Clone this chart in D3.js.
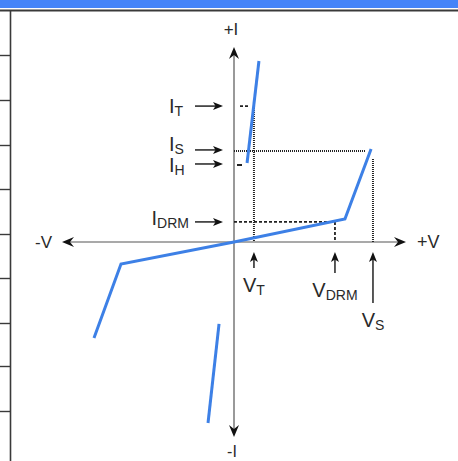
<!DOCTYPE html>
<html>
<head>
<meta charset="utf-8">
<script src="https://cdn.jsdelivr.net/npm/d3@7/dist/d3.min.js"></script>
<style>
html,body{margin:0;padding:0;background:#fff;}
svg{display:block;font-family:"Liberation Sans",Arial,Helvetica,sans-serif;}
</style>
</head>
<body>
<svg id="c" width="458" height="461"></svg>
<script>
// ---- data (schematic units) ----
const curveV = [-8.14, -6.57, 0, 6.45, 7.97];
const curveI = [-4.92, -1.13, 0, 1.18, 4.77];
const onStateV = [0.76, 1.45];
const onStateI = [4.05, 9.28];
const breakdownV = [-0.87, -1.51];
const breakdownI = [-4.2, -9.28];

const currentSubs = ["T", "S", "H", "DRM"];
const currentValues = [6.97, 4.67, 3.95, 1.03];
const voltageSubs = ["T", "DRM", "S"];
const voltageValues = [1.16, 5.87, 8.08];

const axisLabels = ["+I", "-I", "-V", "+V"];
const axisDomain = [-10, 10];

// ---- drawing ----
const svg = d3.select("#c");
const x = d3.scaleLinear().domain(axisDomain).range([62, 406]);
const y = d3.scaleLinear().domain(axisDomain).range([437, 47]);
const X0 = x(0), Y0 = y(0);
const blue = "#3d80e6";
const ink = "#222";
const textCol = "#2a2a2a";

// frame decoration
svg.append("rect").attr("x",0).attr("y",0).attr("width",458).attr("height",8).attr("fill","#4584f8");
svg.append("line").attr("x1",0).attr("x2",458).attr("y1",10.5).attr("y2",10.5).attr("stroke","#3a3a3a").attr("stroke-width",2);
svg.append("line").attr("x1",10.5).attr("x2",10.5).attr("y1",10).attr("y2",461).attr("stroke","#3a3a3a").attr("stroke-width",1.6);
[55,100,145,189,234,278,323,366,411].forEach(yy=>{
  svg.append("line").attr("x1",0).attr("x2",10).attr("y1",yy+0.5).attr("y2",yy+0.5).attr("stroke","#3a3a3a").attr("stroke-width",1.4);
});

// arrowhead helper: tip at (tx,ty), direction angle (rad) pointing toward tip
function arrowHead(tx, ty, ang, len, half, notch){
  const c = Math.cos(ang), s = Math.sin(ang);
  const bx = tx - c*len, by = ty - s*len;
  const nx = tx - c*(len-notch), ny = ty - s*(len-notch);
  const p1 = [bx - s*half, by + c*half];
  const p2 = [bx + s*half, by - c*half];
  svg.append("path")
    .attr("d", `M${tx},${ty}L${p1[0]},${p1[1]}L${nx},${ny}L${p2[0]},${p2[1]}Z`)
    .attr("fill", "#111");
}

// axes
svg.append("line").attr("x1",x(axisDomain[0])+4).attr("x2",x(axisDomain[1])-4).attr("y1",Y0).attr("y2",Y0).attr("stroke","#555").attr("stroke-width",1.2);
svg.append("line").attr("x1",X0).attr("x2",X0).attr("y1",y(axisDomain[1])+4).attr("y2",y(axisDomain[0])-4).attr("stroke","#555").attr("stroke-width",1.2);
arrowHead(x(axisDomain[1]), Y0, 0, 12, 5, 4);
arrowHead(x(axisDomain[0]), Y0, Math.PI, 12, 5, 4);
arrowHead(X0, y(axisDomain[1]), -Math.PI/2, 12, 5, 4);
arrowHead(X0, y(axisDomain[0]), Math.PI/2, 12, 5, 4);

const axFont = 17;
svg.append("text").attr("x",X0-3).attr("y",y(axisDomain[1])-12).attr("text-anchor","middle").attr("font-size",axFont).attr("fill",textCol).text(axisLabels[0]);
svg.append("text").attr("x",X0-2).attr("y",y(axisDomain[0])+20).attr("text-anchor","middle").attr("font-size",16).attr("fill",textCol).text(axisLabels[1]);
svg.append("text").attr("x",x(axisDomain[0])-10).attr("y",Y0+6).attr("text-anchor","end").attr("font-size",axFont).attr("fill",textCol).text(axisLabels[2]);
svg.append("text").attr("x",x(axisDomain[1])+11).attr("y",Y0+6).attr("text-anchor","start").attr("font-size",axFont+1).attr("fill",textCol).text(axisLabels[3]);

// reference lines
const iT = currentValues[0], iS = currentValues[1], iH = currentValues[2], iDRM = currentValues[3];
const vT = voltageValues[0], vDRM = voltageValues[1], vS = voltageValues[2];
const dotted = "1,1", dashed = "3,2";
function ref(x1,y1,x2,y2,dash,w){
  svg.append("line").attr("x1",x1).attr("y1",y1).attr("x2",x2).attr("y2",y2)
    .attr("stroke",ink).attr("stroke-width",w||2).attr("stroke-dasharray",dash||null);
}
ref(X0+6, y(iT), x(vT)-4, y(iT), dashed, 1.8);
ref(x(vT), y(iT)+2, x(vT), Y0, dotted, 2);
ref(X0, y(iS), x(vS)-7, y(iS), dotted, 2);
ref(x(vS), y(iS)+8, x(vS), Y0, dotted, 2);
ref(X0+3, y(iH), X0+8, y(iH), null, 2);
ref(X0, y(iDRM), x(vDRM), y(iDRM), dashed, 1.8);
ref(x(vDRM), y(iDRM), x(vDRM), Y0, dashed, 1.8);

// curves
const line = d3.line().x(d=>x(d[0])).y(d=>y(d[1]));
function curve(vs, is){
  svg.append("path").datum(vs.map((v,i)=>[v,is[i]])).attr("d",line)
    .attr("fill","none").attr("stroke",blue).attr("stroke-width",3).attr("stroke-linejoin","miter");
}
curve(curveV, curveI);
curve(onStateV, onStateI);
curve(breakdownV, breakdownI);

// labels with subscripts
const mainFont = 20, subFont = 14;
function subLabel(px, py, main, sub, anchor){
  const t = svg.append("text").attr("y",py).attr("font-size",mainFont).attr("fill",textCol);
  t.append("tspan").text(main);
  t.append("tspan").attr("font-size",subFont).attr("dy",3).text(sub);
  const w = t.node().getComputedTextLength();
  let sx = px;
  if(anchor === "middle") sx = px - w/2;
  if(anchor === "endmin") sx = Math.min(px - w, 169);
  t.attr("x", sx);
  return t;
}
function thinArrow(x1,y1,x2,y2){
  const ang = Math.atan2(y2-y1, x2-x1);
  svg.append("line").attr("x1",x1).attr("y1",y1)
    .attr("x2",x2-Math.cos(ang)*6).attr("y2",y2-Math.sin(ang)*6)
    .attr("stroke","#222").attr("stroke-width",1.5);
  arrowHead(x2, y2, ang, 10, 4, 2.5);
}

// current labels (left of axis)
const labelShift = {T: 7, S: 1, H: 8, DRM: 3};
const arrowShift = {T: 0, S: -1, H: -1, DRM: 0};
currentValues.forEach((v,i)=>{
  const s = currentSubs[i];
  const ay = y(v) + arrowShift[s];
  thinArrow(X0-39, ay, X0-11, ay);
  subLabel(X0-45, ay + labelShift[s], "I", s, "endmin");
});

// voltage labels (below axis)
const vArrowLen = [16, 21, 51];
voltageValues.forEach((v,i)=>{
  const xx = x(v);
  thinArrow(xx, Y0+10+vArrowLen[i], xx, Y0+10);
  subLabel(xx, Y0+10+vArrowLen[i]+24, "V", voltageSubs[i], "middle");
});
</script>
</body>
</html>
